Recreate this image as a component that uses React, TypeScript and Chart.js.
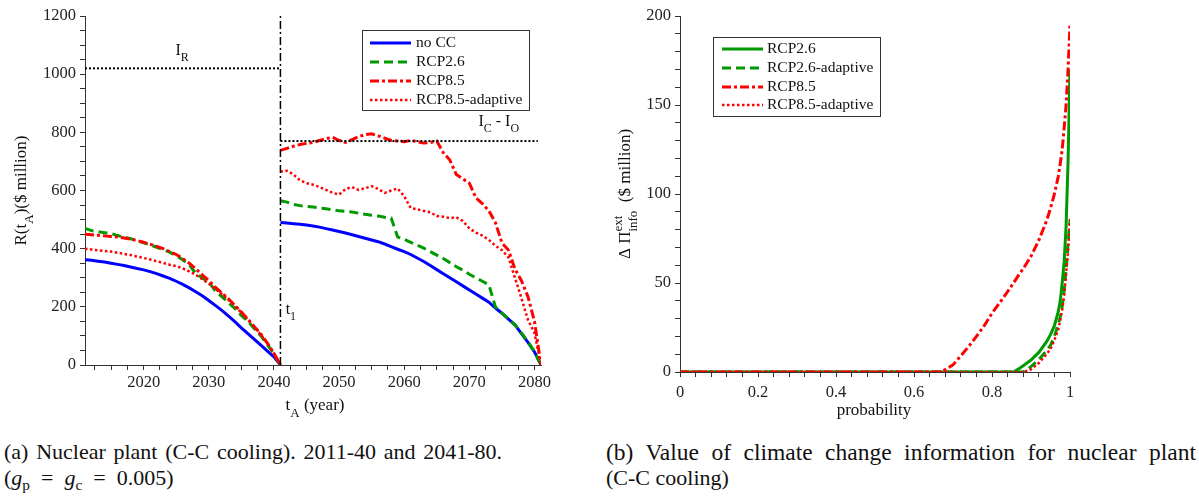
import React, { useEffect, useRef } from "react";
import { Chart, registerables } from "chart.js";
Chart.register(...registerables);

// ---------------- Data: panel (a) ----------------
const yearsP1 = [2011, 2012, 2013, 2014, 2015, 2016, 2017, 2018, 2019, 2020, 2021, 2022, 2023, 2024, 2025, 2026, 2027, 2028, 2029, 2030, 2031, 2032, 2033, 2034, 2035, 2036, 2037, 2038, 2039, 2040, 2041];
const yearsP2 = [2041, 2042, 2043, 2044, 2045, 2046, 2047, 2048, 2049, 2050, 2051, 2052, 2053, 2054, 2055, 2056, 2057, 2058, 2059, 2060, 2061, 2062, 2063, 2064, 2065, 2066, 2067, 2068, 2069, 2070, 2071, 2072, 2073, 2074, 2075, 2076, 2077, 2078, 2079, 2080, 2081];

const noCC_P1 = [362, 360, 357, 354, 350, 346, 342, 337, 332, 327, 321, 314, 306, 298, 288, 277, 265, 252, 238, 222, 205, 188, 169, 149, 128, 108, 88, 68, 48, 28, 0];
const rcp26_P1 = [470, 462, 458, 455, 452, 445, 440, 434, 428, 420, 413, 405, 397, 388, 376, 362, 345, 315, 300, 285, 255, 235, 215, 195, 170, 150, 125, 100, 70, 38, 0];
const rcp85_P1 = [450, 448, 446, 444, 442, 440, 437, 433, 428, 422, 415, 408, 400, 390, 380, 366, 350, 330, 310, 290, 268, 248, 228, 205, 182, 158, 132, 106, 75, 40, 0];
const rcp85ad_P1 = [400, 397, 394, 392, 390, 386, 382, 378, 373, 368, 363, 357, 351, 345, 340, 332, 322, 310, 295, 280, 262, 244, 225, 203, 180, 156, 130, 104, 74, 40, 0];

const noCC_P2 = [490, 488, 486, 484, 481, 478, 474, 469, 464, 459, 454, 448, 442, 436, 430, 424, 416, 407, 398, 390, 380, 368, 356, 342, 328, 314, 300, 286, 272, 258, 244, 230, 216, 196, 178, 158, 138, 108, 78, 45, 0];
const rcp26_P2 = [565, 560, 552, 548, 545, 543, 540, 537, 534, 530, 528, 526, 522, 518, 515, 512, 508, 505, 440, 432, 422, 412, 402, 390, 378, 366, 352, 338, 326, 312, 300, 288, 276, 200, 178, 158, 138, 110, 80, 46, 0];
const rcp85_P2 = [738, 745, 752, 758, 762, 765, 772, 778, 783, 772, 765, 775, 785, 792, 795, 788, 780, 772, 770, 768, 772, 768, 763, 765, 770, 730, 705, 655, 640, 625, 575, 555, 530, 490, 420, 395, 330, 290, 235, 150, 0];
const rcp85ad_P2 = [665, 668, 655, 635, 625, 620, 612, 602, 592, 586, 605, 612, 602, 608, 615, 605, 592, 600, 607, 580, 540, 535, 530, 525, 512, 510, 505, 508, 495, 470, 455, 445, 430, 410, 395, 370, 300, 230, 155, 110, 0];

const T1_YEAR = 2041;
const IR_VALUE = 1020;
const ICIO_VALUE = 770;
const IR_RANGE = [2011, 2041];
const ICIO_RANGE = [2041, 2080.5];

const xTicksA = [2012.5, 2015, 2017.5, 2020, 2022.5, 2025, 2027.5, 2030, 2032.5, 2035, 2037.5, 2040, 2042.5, 2045, 2047.5, 2050, 2052.5, 2055, 2057.5, 2060, 2062.5, 2065, 2067.5, 2070, 2072.5, 2075, 2077.5, 2080];

// ---------------- Data: panel (b) ----------------
const probGrid = [0, 0.1, 0.2, 0.3, 0.4, 0.5, 0.6, 0.67, 0.7, 0.72, 0.75, 0.78, 0.8, 0.83, 0.855, 0.87, 0.88, 0.9, 0.92, 0.94, 0.95, 0.96, 0.97, 0.975, 0.98, 0.985, 0.99, 0.995, 1.0];
const b_rcp26 = [0, 0, 0, 0, 0, 0, 0, 0, 0, 0, 0, 0, 0, 0, 0, 2, 3.5, 6.7, 11, 17, 21, 26, 34, 40, 50, 62, 82, 118, 170];
const b_rcp26ad = [0, 0, 0, 0, 0, 0, 0, 0, 0, 0, 0, 0, 0, 0, 0, 0, 0, 3, 7, 12, 15, 20, 27, 31, 37, 46, 58, 72, 85];
const b_rcp85 = [0, 0, 0, 0, 0, 0, 0, 0, 4, 9, 17, 26, 33, 42, 50, 55, 58, 65, 74, 85, 92, 100, 110, 117, 125, 137, 150, 170, 195];
const b_rcp85ad = [0, 0, 0, 0, 0, 0, 0, 0, 0, 0, 0, 0, 0, 0, 0, 0, 0, 1.5, 5, 10, 13, 18, 24, 29, 35, 43, 55, 68, 86];
const xTicksB = [0, 0.04, 0.08, 0.12, 0.16, 0.2, 0.24, 0.28, 0.32, 0.36, 0.4, 0.44, 0.48, 0.52, 0.56, 0.6, 0.64, 0.68, 0.72, 0.76, 0.8, 0.84, 0.88, 0.92, 0.96, 1];

// ---------------- Styles ----------------
const FONT = '"Liberation Serif", "DejaVu Serif", serif';
const BLUE = "#0000ff";
const GREEN = "#009a00";
const RED = "#ff0000";
const DASH = [9, 5];
const DASHDOT = [9, 3, 3, 3];
const DOT = [2.5, 2.5];
const TITLE_SIZE = 17;

type Seg = { t: string; sub?: string; sup?: string };

function drawRich(ctx: CanvasRenderingContext2D, segs: Seg[], x: number, y: number, size: number, align: "left" | "center") {
  const small = Math.round(size * 0.75);
  const widths = segs.map((s) => {
    ctx.font = `${size}px ${FONT}`;
    const w = ctx.measureText(s.t).width;
    ctx.font = `${small}px ${FONT}`;
    const ws = Math.max(s.sub ? ctx.measureText(s.sub).width : 0, s.sup ? ctx.measureText(s.sup).width : 0);
    return [w, ws];
  });
  const total = widths.reduce((a, [w, ws]) => a + w + ws, 0);
  let cx = align === "center" ? x - total / 2 : x;
  ctx.textAlign = "left";
  ctx.textBaseline = "middle";
  ctx.fillStyle = "#111";
  segs.forEach((s, i) => {
    ctx.font = `${size}px ${FONT}`;
    ctx.fillText(s.t, cx, y);
    cx += widths[i][0];
    ctx.font = `${small}px ${FONT}`;
    if (s.sub) ctx.fillText(s.sub, cx, y + size * 0.42);
    if (s.sup) ctx.fillText(s.sup, cx, y - size * 0.42);
    cx += widths[i][1];
  });
}

type LegendItem = { label: string; color: string; dash: number[]; width: number };
function drawLegend(ctx: CanvasRenderingContext2D, box: { x: number; y: number; w: number; h: number }, items: LegendItem[], rows: number[], lx0: number, lx1: number, tx: number) {
  ctx.save();
  ctx.fillStyle = "#fff";
  ctx.fillRect(box.x, box.y, box.w, box.h);
  ctx.strokeStyle = "#333";
  ctx.lineWidth = 1;
  ctx.setLineDash([]);
  ctx.strokeRect(box.x + 0.5, box.y + 0.5, box.w, box.h);
  items.forEach((it, i) => {
    ctx.beginPath();
    ctx.strokeStyle = it.color;
    ctx.lineWidth = it.width;
    ctx.setLineDash(it.dash);
    ctx.moveTo(lx0, rows[i]);
    ctx.lineTo(lx1, rows[i]);
    ctx.stroke();
    ctx.setLineDash([]);
    ctx.font = `15.5px ${FONT}`;
    ctx.fillStyle = "#111";
    ctx.textAlign = "left";
    ctx.textBaseline = "middle";
    ctx.fillText(it.label, tx, rows[i]);
  });
  ctx.restore();
}

function pts(xs: number[], ys: number[]) {
  return xs.map((x, i) => ({ x, y: ys[i] }));
}
function twoPeriods(y1: number[], y2: number[]) {
  return [...pts(yearsP1, y1), { x: T1_YEAR, y: null as any }, ...pts(yearsP2, y2)];
}

const lineBase = { pointRadius: 0, tension: 0, fill: false, spanGaps: false, borderCapStyle: "butt" as const };

const tickFont = { family: FONT, size: 16.5 };

function LeftChart() {
  const ref = useRef<HTMLCanvasElement>(null);
  useEffect(() => {
    const annot = {
      id: "annotA",
      afterDatasetsDraw(chart: any) {
        const ctx: CanvasRenderingContext2D = chart.ctx;
        const xs = chart.scales.x;
        const ys = chart.scales.y;
        ctx.save();
        drawRich(ctx, [{ t: "I", sub: "R" }], xs.getPixelForValue(2025.9), ys.getPixelForValue(1080), 16, "center");
        drawRich(ctx, [{ t: "I", sub: "C" }, { t: " - I", sub: "O" }], xs.getPixelForValue(2071.4), ys.getPixelForValue(835), 16, "left");
        drawRich(ctx, [{ t: "t", sub: "1" }], xs.getPixelForValue(2041.8), ys.getPixelForValue(190), 16, "left");
        drawLegend(
          ctx,
          { x: 362, y: 30, w: 167, h: 80 },
          [
            { label: "no CC", color: BLUE, dash: [], width: 3 },
            { label: "RCP2.6", color: GREEN, dash: DASH, width: 3 },
            { label: "RCP8.5", color: RED, dash: DASHDOT, width: 3 },
            { label: "RCP8.5-adaptive", color: RED, dash: DOT, width: 2.5 },
          ],
          [43, 62, 81, 100],
          370,
          411,
          416
        );
        const ca = chart.chartArea;
        ctx.save();
        ctx.translate(22, (ca.top + ca.bottom) / 2);
        ctx.rotate(-Math.PI / 2);
        drawRich(ctx, [{ t: "R(t", sub: "A" }, { t: ")($ million)" }], 0, 0, TITLE_SIZE, "center");
        ctx.restore();
        drawRich(ctx, [{ t: "t", sub: "A" }, { t: " (year)" }], 315, 406, TITLE_SIZE, "center");
        ctx.restore();
      },
    };
    const chart = new Chart(ref.current!, {
      type: "line",
      data: {
        datasets: [
          { ...lineBase, data: [{ x: T1_YEAR, y: 0 }, { x: T1_YEAR, y: 1200 }], borderColor: "#000", borderWidth: 1.5, borderDash: [8, 3, 2, 3] },
          { ...lineBase, data: [{ x: IR_RANGE[0], y: IR_VALUE }, { x: IR_RANGE[1], y: IR_VALUE }], borderColor: "#000", borderWidth: 2, borderDash: [2, 2] },
          { ...lineBase, data: [{ x: ICIO_RANGE[0], y: ICIO_VALUE }, { x: ICIO_RANGE[1], y: ICIO_VALUE }], borderColor: "#000", borderWidth: 2, borderDash: [2, 2] },
          { ...lineBase, label: "RCP8.5-adaptive", data: twoPeriods(rcp85ad_P1, rcp85ad_P2), borderColor: RED, borderWidth: 2.5, borderDash: DOT },
          { ...lineBase, label: "RCP8.5", data: twoPeriods(rcp85_P1, rcp85_P2), borderColor: RED, borderWidth: 3, borderDash: DASHDOT },
          { ...lineBase, label: "RCP2.6", data: twoPeriods(rcp26_P1, rcp26_P2), borderColor: GREEN, borderWidth: 3, borderDash: DASH },
          { ...lineBase, label: "no CC", data: twoPeriods(noCC_P1, noCC_P2), borderColor: BLUE, borderWidth: 3 },
        ],
      },
      options: {
        responsive: false,
        animation: false,
        events: [],
        layout: { padding: { left: 0, top: 16, right: 59, bottom: 0 } },
        plugins: { legend: { display: false }, tooltip: { enabled: false } },
        scales: {
          x: {
            type: "linear",
            min: 2011,
            max: 2081,
            afterBuildTicks: (s: any) => {
              s.ticks = xTicksA.map((v) => ({ value: v }));
            },
            afterFit: (s: any) => {
              s.height = 65;
            },
            ticks: { autoSkip: false, maxRotation: 0, font: tickFont, color: "#222", padding: 3, callback: (v: any) => (Number(v) % 10 === 0 ? String(v) : "") },
            grid: { drawOnChartArea: false, tickLength: 5, color: "#333" },
            border: { color: "#333", width: 1 },
          },
          y: {
            min: 0,
            max: 1200,
            afterFit: (s: any) => {
              s.width = 85;
            },
            ticks: { stepSize: 50, autoSkip: false, font: tickFont, color: "#222", padding: 4, callback: (v: any) => (Number(v) % 200 === 0 ? String(v) : "") },
            grid: { drawOnChartArea: false, tickLength: 5, color: "#333" },
            border: { color: "#333", width: 1 },
          },
        },
      },
      plugins: [annot],
    } as any);
    return () => chart.destroy();
  }, []);
  return <canvas ref={ref} width={600} height={430} style={{ position: "absolute", left: 0, top: 0 }} />;
}

function RightChart() {
  const ref = useRef<HTMLCanvasElement>(null);
  useEffect(() => {
    const annot = {
      id: "annotB",
      afterDatasetsDraw(chart: any) {
        const ctx: CanvasRenderingContext2D = chart.ctx;
        ctx.save();
        drawLegend(
          ctx,
          { x: 113, y: 37, w: 167, h: 79 },
          [
            { label: "RCP2.6", color: GREEN, dash: [], width: 3 },
            { label: "RCP2.6-adaptive", color: GREEN, dash: DASH, width: 3 },
            { label: "RCP8.5", color: RED, dash: DASHDOT, width: 3 },
            { label: "RCP8.5-adaptive", color: RED, dash: DOT, width: 2.5 },
          ],
          [49, 68, 87, 105],
          122,
          163,
          167
        );
        const ca = chart.chartArea;
        ctx.save();
        ctx.translate(26, (ca.top + ca.bottom) / 2);
        ctx.rotate(-Math.PI / 2);
        drawRich(ctx, [{ t: "Δ Π", sup: "ext", sub: "info" }, { t: "  ($ million)" }], 0, 0, TITLE_SIZE, "center");
        ctx.restore();
        drawRich(ctx, [{ t: "probability" }], 274, 411, TITLE_SIZE, "center");
        ctx.restore();
      },
    };
    const chart = new Chart(ref.current!, {
      type: "line",
      data: {
        datasets: [
          { ...lineBase, label: "RCP8.5-adaptive", data: pts(probGrid, b_rcp85ad), borderColor: RED, borderWidth: 2.5, borderDash: DOT },
          { ...lineBase, label: "RCP8.5", data: pts(probGrid, b_rcp85), borderColor: RED, borderWidth: 3, borderDash: DASHDOT },
          { ...lineBase, label: "RCP2.6-adaptive", data: pts(probGrid, b_rcp26ad), borderColor: GREEN, borderWidth: 3, borderDash: DASH },
          { ...lineBase, label: "RCP2.6", data: pts(probGrid, b_rcp26), borderColor: GREEN, borderWidth: 3 },
        ],
      },
      options: {
        responsive: false,
        animation: false,
        events: [],
        layout: { padding: { left: 0, top: 16, right: 129, bottom: 0 } },
        plugins: { legend: { display: false }, tooltip: { enabled: false } },
        scales: {
          x: {
            type: "linear",
            min: 0,
            max: 1,
            afterBuildTicks: (s: any) => {
              s.ticks = xTicksB.map((v) => ({ value: v }));
            },
            afterFit: (s: any) => {
              s.height = 58;
            },
            ticks: {
              autoSkip: false,
              maxRotation: 0,
              font: tickFont,
              color: "#222",
              padding: 6,
              callback: (v: any) => {
                const n = Number(v);
                if (Math.abs(n * 5 - Math.round(n * 5)) > 1e-6) return "";
                if (n === 0) return "0";
                if (n === 1) return "1";
                return n.toFixed(1);
              },
            },
            grid: { drawOnChartArea: false, tickLength: 5, color: "#333" },
            border: { color: "#333", width: 1 },
          },
          y: {
            min: 0,
            max: 200,
            afterFit: (s: any) => {
              s.width = 80;
            },
            ticks: { stepSize: 10, autoSkip: false, font: tickFont, color: "#222", padding: 4, callback: (v: any) => (Number(v) % 50 === 0 ? String(v) : "") },
            grid: { drawOnChartArea: false, tickLength: 5, color: "#333" },
            border: { color: "#333", width: 1 },
          },
        },
      },
      plugins: [annot],
    } as any);
    return () => chart.destroy();
  }, []);
  return <canvas ref={ref} width={599} height={430} style={{ position: "absolute", left: 600, top: 0 }} />;
}

const subStyle: React.CSSProperties = { fontSize: "0.7em", verticalAlign: "-0.3em", lineHeight: 0 };
const eqStyle: React.CSSProperties = { margin: "0 11px" };

export default function App() {
  const lineStyle: React.CSSProperties = {
    position: "absolute",
    fontFamily: FONT,
    fontSize: 22,
    lineHeight: "26px",
    whiteSpace: "nowrap",
    color: "#111",
  };
  const justified: React.CSSProperties = { ...lineStyle, whiteSpace: "normal", textAlign: "justify", textAlignLast: "justify" as any };
  return (
    <div style={{ position: "absolute", left: 0, top: 0, width: 1199, height: 500, background: "#fff", overflow: "hidden" }}>
      <LeftChart />
      <RightChart />
      <div style={{ ...justified, left: 4, top: 439, width: 498 }}>(a) Nuclear plant (C-C cooling). 2011-40 and 2041-80.</div>
      <div style={{ ...lineStyle, left: 4, top: 465 }}>
        (<i>g</i>
        <span style={subStyle}>p</span>
        <span style={eqStyle}>=</span>
        <i>g</i>
        <span style={subStyle}>c</span>
        <span style={eqStyle}>=</span>0.005)
      </div>
      <div style={{ ...justified, left: 606, top: 439, width: 590, fontSize: 23.5 }}>(b) Value of climate change information for nuclear plant</div>
      <div style={{ ...lineStyle, left: 606, top: 465 }}>(C-C cooling)</div>
    </div>
  );
}
